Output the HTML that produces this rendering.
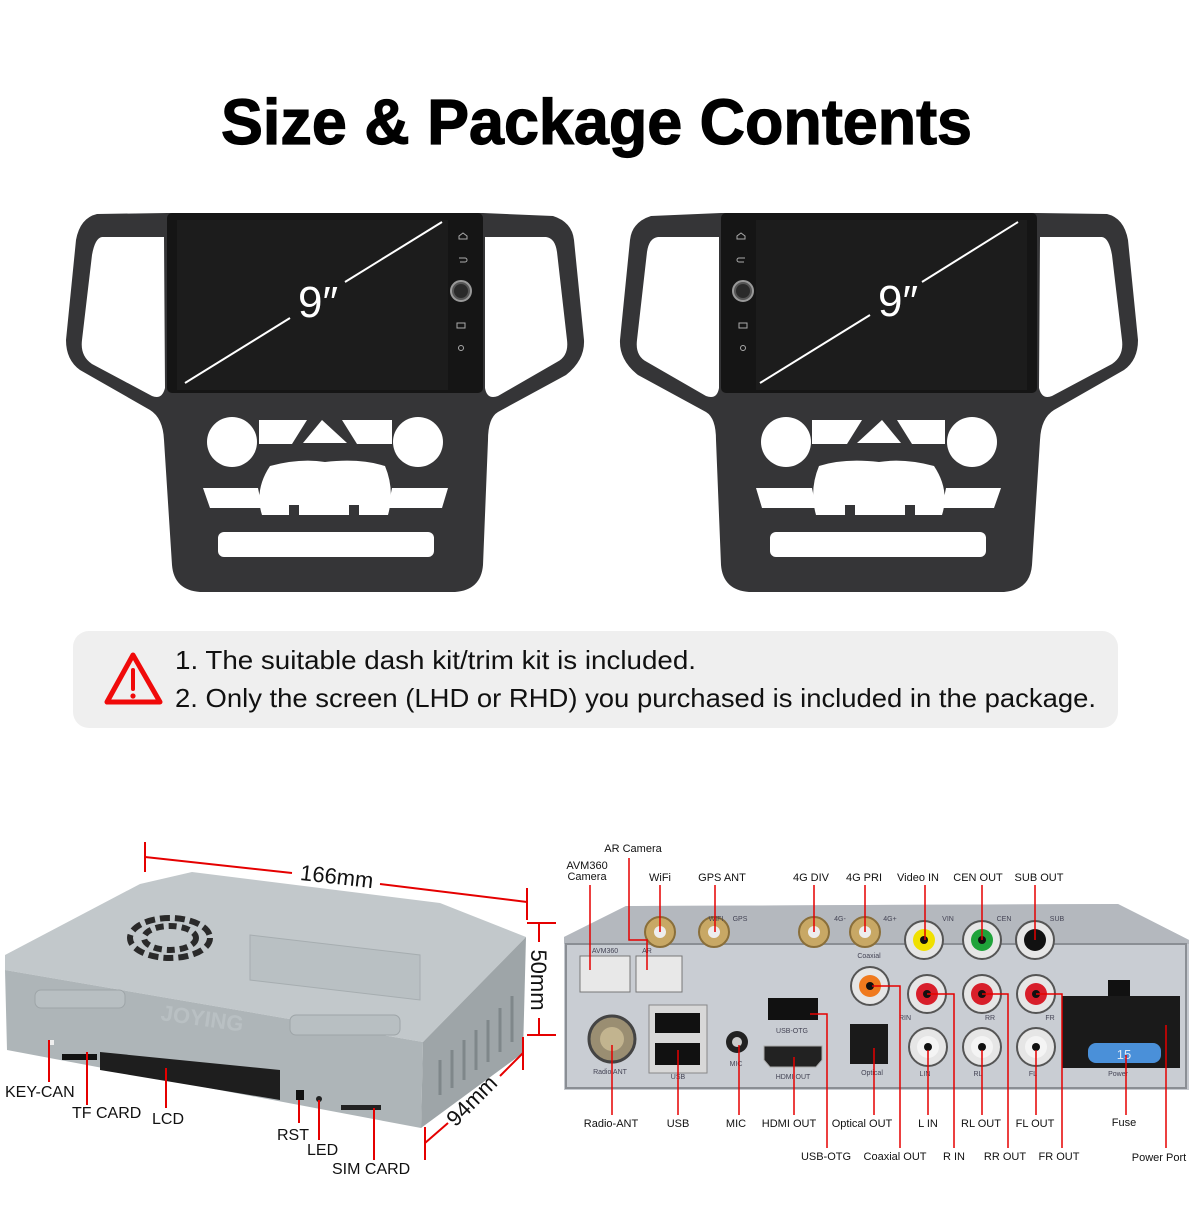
<!DOCTYPE html>
<html><head><meta charset="utf-8"><style>
html,body{margin:0;padding:0;background:#fff;}
svg{display:block;}
text{font-family:"Liberation Sans",sans-serif;}
</style></head><body>
<svg width="1200" height="1213" viewBox="0 0 1200 1213" xmlns="http://www.w3.org/2000/svg">
<rect width="1200" height="1213" fill="#fff"/>
<text x="221" y="144" font-size="64" font-weight="bold" textLength="751" lengthAdjust="spacingAndGlyphs" fill="#000" stroke="#000" stroke-width="1.2">Size &amp; Package Contents</text>

<defs>
<g id="kit">
  <path d="M97 214 L167 213 L483 213 L553 216 Q572 222 574 240 L584 340 Q585 360 566 375 L498 412 Q488 418 488 440 L483 565 Q481 590 455 592 L200 592 Q174 590 172 565 L164 440 Q163 418 150 410 L80 370 Q66 360 66 340 L76 240 Q80 218 97 214 Z" fill="#353537"/>
  <path d="M102 237 L164 237 L165 388 Q162 400 152 396 L92 364 Q80 356 82 340 L92 255 Q95 238 102 237 Z" fill="#fff"/>
  <path d="M485 237 L546 237 Q555 238 557 252 L567 340 Q569 356 557 362 L498 396 Q487 400 485 388 Z" fill="#fff"/>
  <rect x="167" y="213" width="316" height="180" rx="5" fill="#151515"/>
  <rect x="177" y="220" width="271" height="170" fill="#1c1c1c"/>
  <circle cx="461" cy="291" r="10" fill="#555" stroke="#999" stroke-width="2"/>
  <circle cx="461" cy="291" r="7" fill="#2a2a2a"/>
  <g fill="none" stroke="#aaa" stroke-width="1"><path d="M459 236 l4 -3 l4 3 v3 h-8z"/><path d="M459 258 h6 a2 2 0 0 1 0 4 h-5"/><rect x="457" y="323" width="8" height="5"/><circle cx="461" cy="348" r="2.5"/></g>
  <circle cx="232" cy="442" r="25" fill="#fff"/>
  <circle cx="418" cy="442" r="25" fill="#fff"/>
  <path d="M303 443 L322 420 L347 443 Z" fill="#fff"/>
  <path d="M259 420 L307 420 L292 444 L259 444 Z" fill="#fff"/>
  <path d="M342 420 L392 420 L392 444 L357 444 Z" fill="#fff"/>
  <path d="M270 466 Q300 458 325 462 Q360 458 385 466 Q395 490 388 515 L262 515 Q254 490 270 466 Z" fill="#fff"/>
  <rect x="289" y="505" width="10" height="10" fill="#353537"/><rect x="349" y="505" width="10" height="10" fill="#353537"/>
  <path d="M203 488 L258 488 L262 508 L210 508 Z" fill="#fff"/>
  <path d="M392 488 L448 488 L442 508 L388 508 Z" fill="#fff"/>
  <rect x="218" y="532" width="216" height="25" rx="6" fill="#fff"/>
</g>
</defs>
<use href="#kit"/>
<g transform="translate(1204,0) scale(-1,1)"><use href="#kit"/></g>
<line x1="185" y1="383" x2="290" y2="318" stroke="#fff" stroke-width="2"/>
<line x1="345" y1="282" x2="442" y2="222" stroke="#fff" stroke-width="2"/>
<text x="318" y="317" text-anchor="middle" font-size="44" fill="#fff">9″</text>
<line x1="760" y1="383" x2="870" y2="315" stroke="#fff" stroke-width="2"/>
<line x1="922" y1="282" x2="1018" y2="222" stroke="#fff" stroke-width="2"/>
<text x="898" y="316" text-anchor="middle" font-size="44" fill="#fff">9″</text>

<rect x="73" y="631" width="1045" height="97" rx="16" fill="#efefef"/>
<path d="M133 655 L107 702 L160 702 Z" fill="none" stroke="#f00a0a" stroke-width="5" stroke-linejoin="round"/>
<line x1="133" y1="670" x2="133" y2="689" stroke="#f00a0a" stroke-width="4" stroke-linecap="round"/>
<circle cx="133" cy="696" r="2.6" fill="#f00a0a"/>
<text x="175" y="669" font-size="26" textLength="521" lengthAdjust="spacingAndGlyphs" fill="#111">1. The suitable dash kit/trim kit is included.</text>
<text x="175" y="707" font-size="26" textLength="921" lengthAdjust="spacingAndGlyphs" fill="#111">2. Only the screen (LHD or RHD) you purchased is included in the package.</text>

<polygon points="5,955 140,884 192,872 440,903 526,937 423,1042 5,970" fill="#c2c8cb"/>
<polygon points="5,970 423,1042 421,1128 7,1050" fill="#aeb5b8"/>
<polygon points="423,1042 526,937 523,1053 421,1128" fill="#9ea5a8"/>
<g stroke="#7f878a" stroke-width="3">
<line x1="440" y1="1060" x2="440" y2="1095"/><line x1="452" y1="1050" x2="452" y2="1088"/><line x1="464" y1="1040" x2="464" y2="1080"/><line x1="476" y1="1030" x2="476" y2="1070"/><line x1="488" y1="1020" x2="488" y2="1062"/><line x1="500" y1="1008" x2="500" y2="1052"/><line x1="512" y1="996" x2="512" y2="1042"/>
</g>
<polygon points="250,935 420,955 420,1000 250,980" fill="#b9c0c3" stroke="#a6adb0"/>
<ellipse cx="170" cy="938" rx="40" ry="20" fill="none" stroke="#2a2a2a" stroke-width="6" stroke-dasharray="10 5"/>
<ellipse cx="170" cy="938" rx="26" ry="12" fill="none" stroke="#2a2a2a" stroke-width="6" stroke-dasharray="8 5"/>
<rect x="35" y="990" width="90" height="18" rx="6" fill="#b8bfc2" stroke="#9ea5a8"/>
<rect x="290" y="1015" width="110" height="20" rx="6" fill="#b8bfc2" stroke="#9ea5a8"/>
<text x="160" y="1020" font-size="22" fill="#b9c0c3" font-weight="bold" transform="rotate(8 160 1020)">JOYING</text>
<polygon points="100,1052 280,1070 280,1100 100,1070" fill="#1e1e1e"/>
<rect x="62" y="1054" width="35" height="6" fill="#111"/>
<rect x="296" y="1090" width="8" height="10" fill="#111"/>
<circle cx="319" cy="1099" r="3" fill="#222"/>
<rect x="341" y="1105" width="40" height="5" fill="#222"/>
<rect x="48" y="1040" width="6" height="5" fill="#eee"/>

<g stroke="#e50000" stroke-width="2" fill="none">
<line x1="145" y1="842" x2="145" y2="872"/>
<line x1="145" y1="857" x2="292" y2="873"/>
<line x1="380" y1="884" x2="527" y2="902"/>
<line x1="527" y1="888" x2="527" y2="920"/>
<line x1="527" y1="923" x2="556" y2="923"/>
<line x1="539" y1="923" x2="539" y2="942"/>
<line x1="539" y1="1018" x2="539" y2="1035"/>
<line x1="527" y1="1035" x2="556" y2="1035"/>
<line x1="523" y1="1037" x2="523" y2="1070"/>
<line x1="523" y1="1053" x2="500" y2="1076"/>
<line x1="448" y1="1123" x2="425" y2="1143"/>
<line x1="425" y1="1127" x2="425" y2="1160"/>
</g>
<text x="336" y="884" text-anchor="middle" font-size="22" fill="#111" transform="rotate(6.5 336 884)">166mm</text>
<text x="531" y="980" text-anchor="middle" font-size="22" fill="#111" transform="rotate(90 531 980)">50mm</text>
<text x="477" y="1106" text-anchor="middle" font-size="22" fill="#111" transform="rotate(-45 477 1106)">94mm</text>
<g stroke="#e50000" stroke-width="2">
<line x1="49" y1="1040" x2="49" y2="1082"/>
<line x1="87" y1="1052" x2="87" y2="1105"/>
<line x1="166" y1="1068" x2="166" y2="1108"/>
<line x1="299" y1="1100" x2="299" y2="1123"/>
<line x1="319" y1="1100" x2="319" y2="1140"/>
<line x1="374" y1="1108" x2="374" y2="1160"/>
</g>
<g font-size="16" fill="#111">
<text x="5" y="1097">KEY-CAN</text>
<text x="72" y="1118">TF CARD</text>
<text x="152" y="1124">LCD</text>
<text x="277" y="1140">RST</text>
<text x="307" y="1155">LED</text>
<text x="332" y="1174">SIM CARD</text>
</g>

<polygon points="564,937 626,906 1118,904 1189,940 1189,1090 564,1090" fill="#c5c9cf"/>
<polygon points="564,937 626,906 1118,904 1189,940 1189,944 564,944" fill="#b4b8be"/>
<rect x="566" y="944" width="620" height="144" fill="#c9cdd3" stroke="#8a8e94" stroke-width="2"/>
<g fill="#c8a865" stroke="#8a6f3a" stroke-width="2">
<circle cx="660" cy="932" r="15"/><circle cx="714" cy="932" r="15"/><circle cx="814" cy="932" r="15"/><circle cx="865" cy="932" r="15"/>
</g>
<g fill="#eee"><circle cx="660" cy="932" r="6"/><circle cx="714" cy="932" r="6"/><circle cx="814" cy="932" r="6"/><circle cx="865" cy="932" r="6"/></g>
<g stroke="#555" stroke-width="2" fill="#e6e6e6">
<circle cx="924" cy="940" r="19"/><circle cx="982" cy="940" r="19"/><circle cx="1035" cy="940" r="19"/>
<circle cx="870" cy="986" r="19"/>
<circle cx="927" cy="994" r="19"/><circle cx="982" cy="994" r="19"/><circle cx="1036" cy="994" r="19"/>
<circle cx="928" cy="1047" r="19"/><circle cx="982" cy="1047" r="19"/><circle cx="1036" cy="1047" r="19"/>
</g>
<circle cx="924" cy="940" r="11" fill="#f0e000"/><circle cx="982" cy="940" r="11" fill="#1fa33a"/><circle cx="1035" cy="940" r="11" fill="#111"/>
<circle cx="870" cy="986" r="11" fill="#f07a1e"/>
<circle cx="927" cy="994" r="11" fill="#d81e2a"/><circle cx="982" cy="994" r="11" fill="#d81e2a"/><circle cx="1036" cy="994" r="11" fill="#d81e2a"/>
<circle cx="928" cy="1047" r="11" fill="#f4f4f4"/><circle cx="982" cy="1047" r="11" fill="#f4f4f4"/><circle cx="1036" cy="1047" r="11" fill="#f4f4f4"/>
<g fill="#111"><circle cx="924" cy="940" r="4"/><circle cx="982" cy="940" r="4"/><circle cx="870" cy="986" r="4"/><circle cx="927" cy="994" r="4"/><circle cx="982" cy="994" r="4"/><circle cx="1036" cy="994" r="4"/><circle cx="928" cy="1047" r="4"/><circle cx="982" cy="1047" r="4"/><circle cx="1036" cy="1047" r="4"/></g>
<rect x="580" y="956" width="50" height="36" fill="#e8e8e8" stroke="#777"/>
<rect x="636" y="956" width="46" height="36" fill="#e8e8e8" stroke="#777"/>
<circle cx="612" cy="1039" r="23" fill="#9a8e72" stroke="#444" stroke-width="3"/>
<circle cx="612" cy="1039" r="12" fill="#c2b48f"/>
<rect x="649" y="1005" width="58" height="68" fill="#d8d8d8" stroke="#888"/>
<rect x="655" y="1013" width="45" height="20" fill="#111"/><rect x="655" y="1043" width="45" height="22" fill="#111"/>
<circle cx="737" cy="1042" r="11" fill="#222"/><circle cx="737" cy="1042" r="5" fill="#ccc"/>
<rect x="768" y="998" width="50" height="22" fill="#111"/>
<path d="M764 1046 h58 v14 l-6 7 h-46 l-6 -7 z" fill="#222" stroke="#aaa"/>
<rect x="850" y="1024" width="38" height="40" fill="#1a1a1a"/>
<rect x="1108" y="980" width="22" height="18" fill="#111"/>
<rect x="1062" y="996" width="118" height="72" fill="#1a1a1a"/>
<rect x="1088" y="1043" width="73" height="20" rx="8" fill="#4a90d9"/>
<text x="1124" y="1059" text-anchor="middle" font-size="13" fill="#dfe9f5">15</text>
<g fill="#445" font-size="7" text-anchor="middle">
<text x="716" y="921">WIFI</text><text x="740" y="921">GPS</text><text x="840" y="921">4G-</text><text x="890" y="921">4G+</text>
<text x="948" y="921">VIN</text><text x="1004" y="921">CEN</text><text x="1057" y="921">SUB</text>
<text x="605" y="953">AVM360</text><text x="647" y="953">AR</text><text x="869" y="958">Coaxial</text>
<text x="610" y="1074">Radio ANT</text><text x="678" y="1079">USB</text><text x="736" y="1066">MIC</text><text x="792" y="1033">USB-OTG</text><text x="793" y="1079">HDMI OUT</text><text x="872" y="1075">Optical</text>
<text x="905" y="1020">RIN</text><text x="990" y="1020">RR</text><text x="1050" y="1020">FR</text>
<text x="925" y="1076">LIN</text><text x="978" y="1076">RL</text><text x="1033" y="1076">FL</text><text x="1118" y="1076">Power</text>
</g>
<g stroke="#e50000" stroke-width="1.5" fill="none">
<polyline points="590,885 590,970"/>
<polyline points="629,858 629,940 647,940 647,970"/>
<polyline points="660,885 660,932"/><polyline points="715,885 715,932"/>
<polyline points="814,885 814,932"/><polyline points="865,885 865,932"/>
<polyline points="925,885 925,940"/><polyline points="982,885 982,940"/><polyline points="1035,885 1035,940"/>
<polyline points="612,1045 612,1115"/><polyline points="678,1050 678,1115"/><polyline points="739,1045 739,1115"/><polyline points="794,1057 794,1115"/><polyline points="874,1048 874,1115"/>
<polyline points="928,1050 928,1115"/><polyline points="982,1050 982,1115"/><polyline points="1036,1050 1036,1115"/><polyline points="1126,1055 1126,1115"/>
<polyline points="810,1014 827,1014 827,1148"/>
<polyline points="872,986 900,986 900,1148"/>
<polyline points="927,994 954,994 954,1148"/>
<polyline points="982,994 1008,994 1008,1148"/>
<polyline points="1036,994 1062,994 1062,1148"/>
<polyline points="1166,1025 1166,1148"/>
</g>
<g font-size="11" fill="#111" text-anchor="middle">
<text x="633" y="852">AR Camera</text>
<text x="587" y="869">AVM360</text><text x="587" y="880">Camera</text>
<text x="660" y="881">WiFi</text><text x="722" y="881">GPS ANT</text><text x="811" y="881">4G DIV</text><text x="864" y="881">4G PRI</text><text x="918" y="881">Video IN</text><text x="978" y="881">CEN OUT</text><text x="1039" y="881">SUB OUT</text>
<text x="611" y="1127">Radio-ANT</text><text x="678" y="1127">USB</text><text x="736" y="1127">MIC</text><text x="789" y="1127">HDMI OUT</text><text x="862" y="1127">Optical OUT</text><text x="928" y="1127">L IN</text><text x="981" y="1127">RL OUT</text><text x="1035" y="1127">FL OUT</text><text x="1124" y="1126">Fuse</text>
<text x="826" y="1160">USB-OTG</text><text x="895" y="1160">Coaxial OUT</text><text x="954" y="1160">R IN</text><text x="1005" y="1160">RR OUT</text><text x="1059" y="1160">FR OUT</text><text x="1159" y="1161">Power Port</text>
</g>
</svg>
</body></html>
